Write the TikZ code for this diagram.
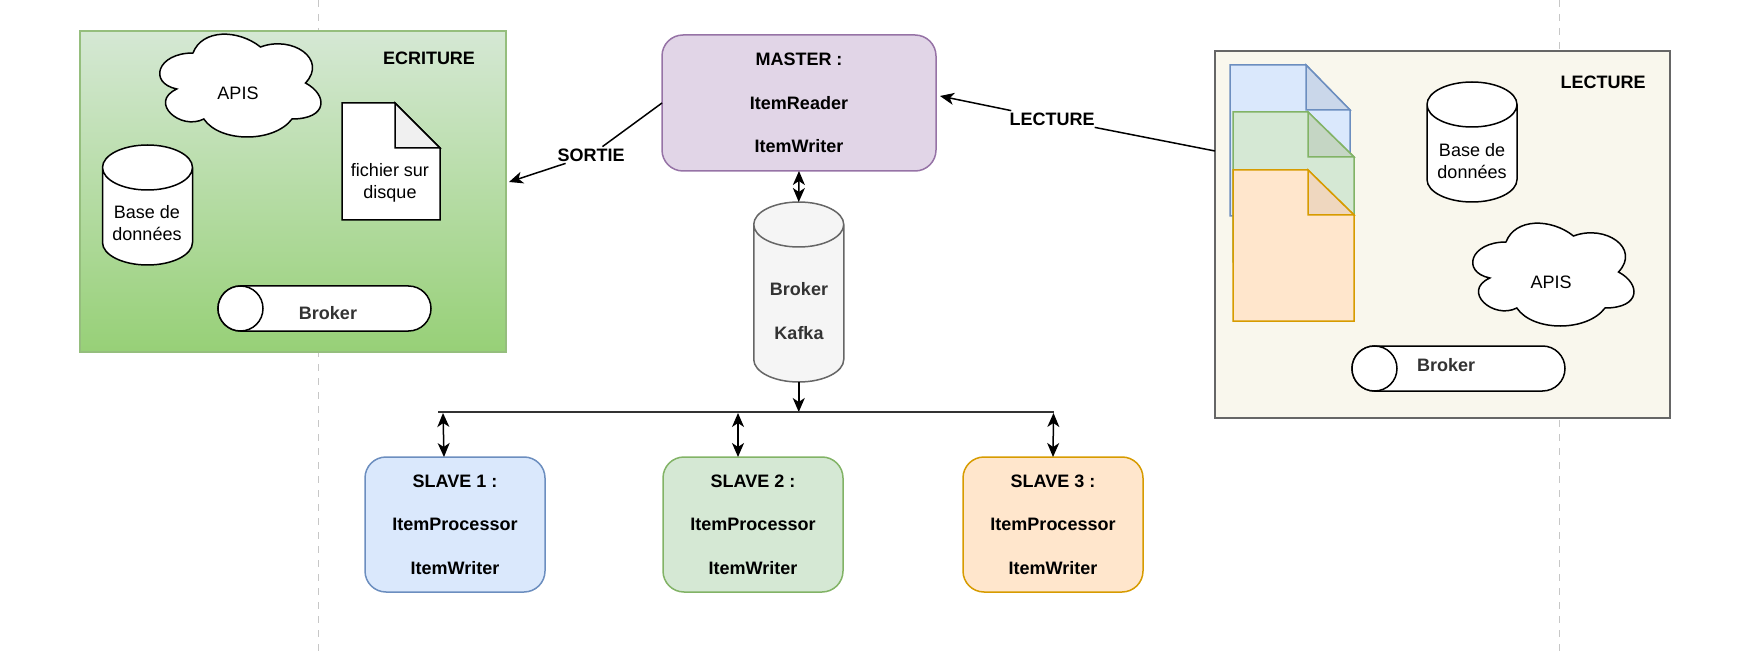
\documentclass[tikz,border=0pt]{standalone}
\usepackage{fontspec}
\setmainfont{Liberation Sans}
\usetikzlibrary{arrows.meta,shapes.geometric}
\definecolor{bluefill}{HTML}{DAE8FC}
\definecolor{blueline}{HTML}{6C8EBF}
\definecolor{bluefold}{HTML}{CAD7EA}
\definecolor{greenfill}{HTML}{D5E8D4}
\definecolor{greenline}{HTML}{82B366}
\definecolor{greenfold}{HTML}{C5D6C4}
\definecolor{greenbottom}{HTML}{97D077}
\definecolor{orangefill}{HTML}{FFE6CC}
\definecolor{orangeline}{HTML}{D79B00}
\definecolor{orangefold}{HTML}{EFD7BF}
\definecolor{purplefill}{HTML}{E1D5E7}
\definecolor{purpleline}{HTML}{9673A6}
\definecolor{creamfill}{HTML}{F9F7ED}
\definecolor{softgrey}{HTML}{F5F5F5}
\definecolor{midgrey}{HTML}{666666}
\definecolor{darkgrey}{HTML}{333333}
\tikzset{
  plain/.style={inner sep=0pt,outer sep=0pt,font=\fontsize{18}{22}\selectfont,align=center},
  heavy/.style={plain,font=\bfseries\fontsize{18}{22}\selectfont},
  edgelabel/.style={heavy,inner sep=2pt},
  stagebox/.style={draw,rounded corners=21pt,line width=1.5pt,inner sep=0pt,outer sep=0pt,
    minimum width=180pt,minimum height=135pt,align=center,
    font=\bfseries\fontsize{18}{43.5}\selectfont},
  tower/.style={draw=black,fill=white,shape=cylinder,shape border rotate=90,shape aspect=0.5,line width=1.5pt,
    inner xsep=45pt,inner ysep=0pt,outer sep=0pt,minimum width=90pt,minimum height=120pt,anchor=south},
  pipe/.style={draw=black,fill=white,rounded corners=22.5pt,line width=1.5pt,inner sep=0pt,outer sep=0pt,
    minimum width=213pt,minimum height=45pt},
  pipecap/.style={draw=black,fill=white,circle,line width=1.5pt,inner sep=0pt,outer sep=0pt,
    minimum size=45pt,anchor=west},
  link/.style={line width=1.5pt,-{Stealth[length=14pt,width=12pt,inset=4pt]}},
  twolink/.style={line width=1.5pt,{Stealth[length=14pt,width=12pt,inset=4pt]}-{Stealth[length=14pt,width=12pt,inset=4pt]}},
  apicloud/.pic={
    \draw[x=180pt,y=-120pt,draw=black,fill=white,line width=1.5pt]
      (0.25,0.25) .. controls (0.05,0.25) and (0,0.5) .. (0.16,0.55)
      .. controls (0,0.66) and (0.18,0.9) .. (0.31,0.8)
      .. controls (0.4,1) and (0.7,1) .. (0.8,0.8)
      .. controls (1,0.8) and (1,0.6) .. (0.875,0.5)
      .. controls (1,0.3) and (0.8,0.1) .. (0.625,0.2)
      .. controls (0.5,0.05) and (0.3,0.05) .. (0.25,0.25) -- cycle;
  }
}
\begin{document}
\begin{tikzpicture}[x=1pt,y=-1pt]
\path[use as bounding box] (0,0) rectangle (1745,652);
\draw[black!22,line width=1pt,dash pattern=on 7pt off 7pt] (318,0) -- (318,652);
\draw[black!22,line width=1pt,dash pattern=on 7pt off 7pt] (1559,0) -- (1559,652);
% ecriture
\node[draw=greenline!85,top color=greenfill,bottom color=greenbottom,line width=1.5pt,inner sep=0pt,outer sep=0pt,minimum width=426pt,minimum height=321pt] (ecframe) at (293,191.5) {};
\node[heavy] (ectitle) at (429,58) {ECRITURE};
\pic at (148,23) {apicloud};
\node[plain] (ecapis) at (238,93) {APIS};
\node[tower] (ecbase) at (147.5,265) {};
\node[plain] (ecbasetext) at (147,223.5) {Base de\\données};
\draw[fill=white,line width=1.5pt] (342,103) -- (395,103) -- (440,148) -- (440,220) -- (342,220) -- cycle;
\draw[fill=black!6,line width=1.5pt] (395,103) -- (395,148) -- (440,148) -- cycle;
\node[plain] (ecfile) at (390,182.5) {fichier sur\\disque};
\node[pipe] (ecpipe) at (324.5,308.5) {};
\node[pipecap] (eccap) at (ecpipe.west) {};
\node[heavy,text=darkgrey] (ecbroker) at (328,313) {Broker};
% lecture
\node[draw=midgrey,fill=creamfill,line width=1.5pt,inner sep=0pt,outer sep=0pt,minimum width=455pt,minimum height=367pt] (lcframe) at (1442.5,234.5) {};
\node[heavy] (lctitle) at (1603,82) {LECTURE};
\draw[draw=blueline,fill=bluefill,line width=1.5pt] (1230,65) -- (1306,65) -- (1350,110) -- (1350,216) -- (1230,216) -- cycle;
\draw[draw=blueline,fill=bluefold,line width=1.5pt] (1306,65) -- (1306,110) -- (1350,110) -- cycle;
\draw[draw=greenline,fill=greenfill,line width=1.5pt] (1233,112) -- (1308,112) -- (1354,157) -- (1354,262) -- (1233,262) -- cycle;
\draw[draw=greenline,fill=greenfold,line width=1.5pt] (1308,112) -- (1308,157) -- (1354,157) -- cycle;
\draw[draw=orangeline,fill=orangefill,line width=1.5pt] (1233,170) -- (1308,170) -- (1354,215) -- (1354,321) -- (1233,321) -- cycle;
\draw[draw=orangeline,fill=orangefold,line width=1.5pt] (1308,170) -- (1308,215) -- (1354,215) -- cycle;
\node[tower] (lcbase) at (1472,202) {};
\node[plain] (lcbasetext) at (1472,161) {Base de\\données};
\pic at (1461,212) {apicloud};
\node[plain] (lcapis) at (1551,282) {APIS};
\node[pipe] (lcpipe) at (1458.5,368.5) {};
\node[pipecap] (lccap) at (lcpipe.west) {};
\node[heavy,text=darkgrey] (lcbroker) at (1446,365) {Broker};
% centre
\node[stagebox,draw=purpleline,fill=purplefill,minimum width=274pt,minimum height=136pt] (masterbox) at (799,103) {MASTER :\\ItemReader\\ItemWriter};
\node[tower,draw=midgrey,fill=softgrey,minimum height=180pt] (kafka) at (798.75,382) {};
\node[heavy,text=darkgrey,font=\bfseries\fontsize{18}{44}\selectfont] (kafkatext) at (799,311) {Broker\\Kafka};
\node[stagebox,draw=blueline,fill=bluefill] (slaveone) at (455,524.5) {SLAVE 1 :\\ItemProcessor\\ItemWriter};
\node[stagebox,draw=greenline,fill=greenfill] (slavetwo) at (753,524.5) {SLAVE 2 :\\ItemProcessor\\ItemWriter};
\node[stagebox,draw=orangeline,fill=orangefill] (slavethree) at (1053,524.5) {SLAVE 3 :\\ItemProcessor\\ItemWriter};
\coordinate (busleft) at (438,412);
\coordinate (busright) at (1053.5,412);
\coordinate (tapone) at (443,413);
\coordinate (taptwo) at (738,413);
\coordinate (tapthree) at (1053.5,413);
\coordinate (ecport) at (509,182);
\coordinate (lcport) at (1215,151);
\coordinate (masterport) at (940,96);
\node[edgelabel] (sortie) at (591,155) {SORTIE};
\node[edgelabel] (lecture) at (1052,119) {LECTURE};
\draw[line width=1.5pt] (masterbox.west) -- (sortie);
\draw[link] (sortie) -- (ecport);
\draw[line width=1.5pt] (lcport) -- (lecture);
\draw[link] (lecture) -- (masterport);
\draw[twolink] (masterbox.south) -- (kafka.north);
\draw[link] (kafka.south) -- (kafka.south |- busleft);
\draw[darkgrey,line width=2pt] (busleft) -- (busright);
\draw[twolink] (tapone) -- ([xshift=-11pt]slaveone.north);
\draw[twolink] (taptwo) -- ([xshift=-15pt]slavetwo.north);
\draw[twolink] (tapthree) -- (slavethree.north);
\end{tikzpicture}
\end{document}
